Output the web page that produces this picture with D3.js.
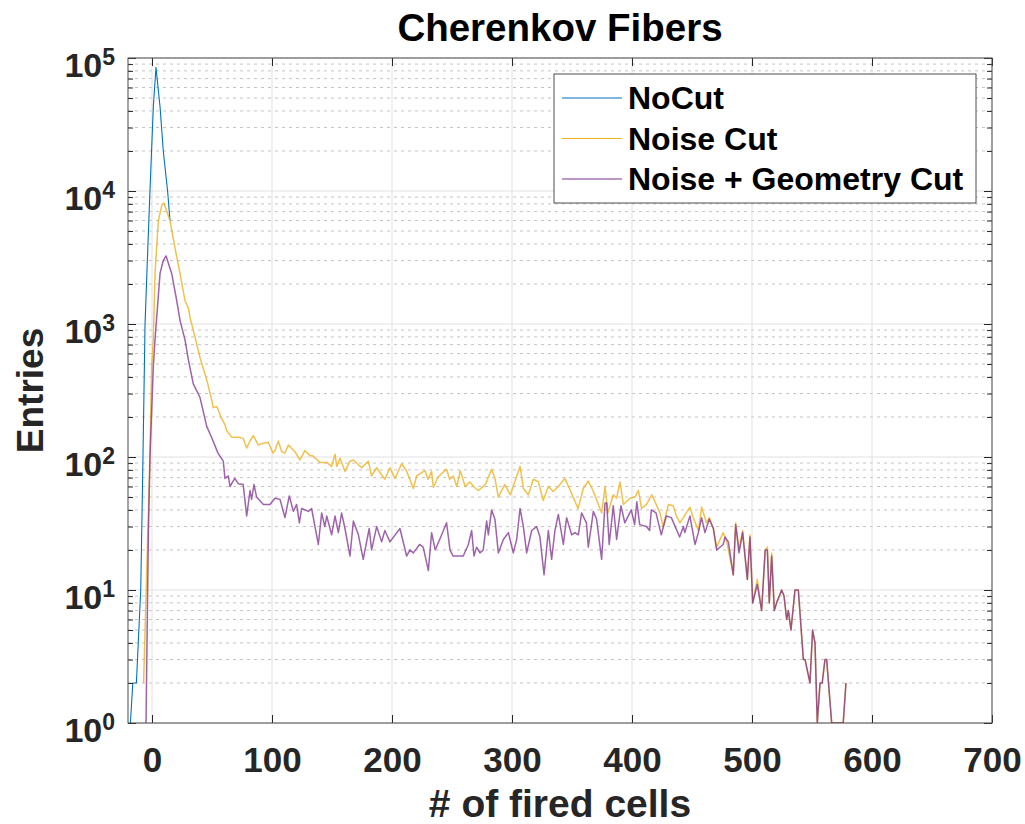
<!DOCTYPE html>
<html>
<head>
<meta charset="utf-8">
<script src="https://cdn.jsdelivr.net/npm/d3@7"></script>
<style>
  html, body { margin: 0; padding: 0; background: #fff; }
  svg { display: block; }
  text { font-family: "Liberation Sans", Arial, Helvetica, sans-serif; font-weight: bold; }
</style>
</head>
<body>
<svg id="chart" width="1025" height="824"></svg>
<script>
// ---------------- DATA ----------------
const title = "Cherenkov Fibers";
const xLabel = "# of fired cells";
const yLabel = "Entries";
const seriesNames = ["NoCut", "Noise Cut", "Noise + Geometry Cut"];
const xTickValues = [0, 100, 200, 300, 400, 500, 600, 700];
const yTickExponents = [0, 1, 2, 3, 4, 5];

// NoCut (only the visible peak region; beyond it the curve lies under "Noise Cut")
const noCutX = [-18, -16, -13, -9.4, -7.8, -5.8, -4, -1.7, 1.1, 3.3, 6.7, 9.4, 13, 15];
const noCutY = [1, 2, 2, 10, 70, 1000, 2800, 10000, 43000, 85000, 43000, 20000, 10000, 6000];

// Noise Cut
const noiseCutX = [-7, -1.7, -0.3, 1.1, 2.5, 5.3, 8.3, 10, 15, 19, 23.3, 27.5, 30.3, 31.7, 35.8, 40, 45.6, 49.7, 51, 53.9,
  55.3, 58, 60.8, 62.2, 66.4, 72, 76, 78.9, 81.7, 84.4, 88.6, 91.4, 96.9, 100.8, 102.5, 105.3, 108, 110.8, 113.6, 119,
  123.3, 127.5, 131.7, 134, 140, 145.6, 149.7, 152.5, 154, 156.7, 160.8, 165, 167.8, 174.7, 180.3, 183, 187.2, 194, 198.3, 202.5,
  208, 212, 217.8, 220.5, 227.5, 230, 233, 234.4, 238.6, 245.5, 248, 251, 254, 256.9, 261, 265, 267.8, 272, 277.8, 283,
  285.8, 288.6, 294, 298.6, 301, 306.7, 309.5, 313.6, 317.8, 322, 326, 330.3, 334.4, 338.6, 344, 349.4, 355, 359.4, 363.6, 367.8,
  374.7, 377.5, 380, 384.4, 387.2, 390, 392.8, 398.3, 402.5, 405.3, 408, 412.2, 416.4, 419.2, 423.3, 426, 430.3, 434.4, 437, 440,
  442.8, 448.3, 451, 455.3, 458, 462, 464.4, 467.8, 470.5, 476, 479, 484.4, 486.4, 489.2, 492.2, 496.1, 498.3, 500.6, 504.4, 508,
  511, 512.8, 514.4, 516.4, 518.6, 520.5, 524.7, 526.7, 528.9, 530.3, 532.5, 535.8, 538.6, 542.8, 544.2, 548.3, 550.5, 552.5, 554.4, 556.7,
  558.5, 560.8, 562.2, 566.4, 576, 578.3];
const noiseCutY = [2, 100, 480, 760, 2400, 6000, 7900, 8100, 6000, 3800, 2400, 1500, 1320, 1120, 800, 560, 380, 270, 235, 240,
  225, 195, 175, 158, 141, 141, 138, 117, 132, 145, 123, 126, 129, 107, 112, 132, 110, 107, 123, 110,
  95, 112, 102, 102, 91, 91, 85, 105, 85, 98, 78, 93, 95, 83, 93, 72, 83, 68, 83, 69,
  89, 79, 58, 72, 79, 68, 78, 59, 71, 81, 68, 72, 60, 79, 60, 65, 60, 56, 62, 81,
  69, 50, 62, 52, 60, 85, 58, 52, 68, 65, 47, 60, 55, 60, 69, 54, 41, 58, 66, 55,
  38, 60, 38, 52, 49, 65, 44, 49, 50, 56, 41, 44, 52, 46, 38, 30, 44, 43, 36, 32,
  35, 42, 35, 28, 42, 32, 35, 29, 21, 27, 23, 13, 32, 20, 28, 12, 26, 8, 12, 7,
  20, 21, 8, 19, 7, 8, 10, 9, 6, 7, 5, 10, 10, 3, 3, 2, 5, 4, 1, 2,
  2, 3, 3, 1, 1, 2];

// Noise + Geometry Cut
const geoCutX = [-5, -3, -1.7, 1.1, 2.5, 6.7, 9.4, 11.7, 16.4, 20.6, 23.3, 27.5, 30.3, 34.4, 40, 45.6, 49.7, 55, 59.4, 60.8,
  63.6, 65, 69, 71.9, 76, 78.9, 81.7, 83, 85, 87.2, 92.8, 98.3, 102.5, 106.7, 110.8, 114.4, 117.8, 120.5, 122.8, 124.7,
  130.3, 133, 138.6, 141.4, 144, 145.6, 149.7, 152.5, 155.3, 158, 160.8, 165, 167.8, 172, 176, 181, 183, 187.2, 191.4, 194,
  198.3, 206.6, 212.2, 215, 217.8, 223, 226, 230.3, 233, 236, 241.4, 245.5, 248.3, 251, 259.4, 263.6, 266.4, 268.3, 270.5, 273.3,
  276, 278.9, 280.3, 283, 285.8, 288.6, 292.8, 297, 301.1, 303.9, 306.7, 309.5, 312.2, 316.4, 320.5, 323.3, 326.7, 330.3, 333, 335.8,
  338.6, 342.8, 345.5, 349.7, 352.5, 355.3, 358, 362, 363.6, 367.8, 370.5, 374.7, 377.5, 378.9, 381, 384.4, 387.2, 390.8, 394, 399.4,
  402.2, 404, 406.4, 412, 414.7, 416.1, 420, 424.4, 428.6, 432.8, 439.7, 442.8, 444, 448.3, 452.5, 455.3, 458, 460.8, 464.4, 467.8,
  470.5, 476, 477.5, 480.3, 484.4, 486.4, 489.2, 492.2, 496.1, 498.3, 500.6, 504.4, 508, 511, 512.8, 514.4, 516.4, 518.6, 520.5, 524.7,
  526.7, 528.9, 530.3, 532.5, 535.8, 538.6, 542.8, 544.2, 548.3, 550.5, 552.5, 554.4, 556.7, 558.5, 560.8, 562.2, 566.4, 576, 578.3];
const geoCutY = [1, 27, 100, 480, 760, 2400, 3000, 3250, 2400, 1500, 1070, 760, 540, 355, 280, 170, 140, 107, 93, 69,
  72, 60, 69, 63, 62, 36, 56, 48, 62, 50, 44, 44, 49, 48, 35, 51, 39, 44, 32, 41,
  39, 41, 22, 38, 30, 36, 26, 36, 27, 38, 29, 18, 33, 26, 17, 29, 20, 30, 23, 28,
  23, 29, 18, 20, 19, 22, 21, 14, 27, 20, 26, 32, 20, 18, 18, 22, 28, 18, 21, 19,
  20, 33, 26, 40, 34, 19, 24, 27, 19, 24, 41, 30, 19, 28, 30, 25, 13, 28, 17, 28,
  37, 22, 35, 26, 27, 26, 38, 32, 21, 39, 34, 17, 45, 45, 22, 43, 24, 43, 32, 40,
  31, 46, 31, 30, 28, 40, 38, 26, 36, 35, 25, 30, 27, 36, 22, 27, 35, 27, 34, 29,
  20, 22, 25, 23, 13, 31, 19, 27, 12, 25, 8, 11, 7, 20, 20, 8, 18, 7, 8, 10,
  9, 6, 7, 5, 10, 10, 3, 3, 2, 5, 4, 1, 2, 2, 3, 3, 1, 1, 2];

const colors = ["#0072BD", "#EDB120", "#7E2F8E"];

// ---------------- LAYOUT ----------------
const plot = { left: 128, right: 992, top: 58, bottom: 723 };
const FONT_TICK = 35, FONT_TITLE = 38.5, FONT_XLABEL = 39, FONT_YLABEL = 37, FONT_LEGEND = 32;

const svg = d3.select("#chart");
const x = d3.scaleLinear().domain([-20, 700]).range([plot.left, plot.right]);
const y = d3.scaleLog().domain([1, 1e5]).range([plot.bottom, plot.top]);

const majorY = yTickExponents.map(e => Math.pow(10, e));
const minorY = [];
for (let e = 0; e < 5; e++) for (let k = 2; k <= 9; k++) minorY.push(k * Math.pow(10, e));

// grid
const grid = svg.append("g");
grid.selectAll(".ymin").data(minorY).enter().append("line")
  .attr("x1", plot.left).attr("x2", plot.right)
  .attr("y1", d => y(d)).attr("y2", d => y(d))
  .attr("stroke", "#c4c4c4").attr("stroke-width", 1).attr("stroke-dasharray", "3,4");
grid.selectAll(".ymaj").data(majorY).enter().append("line")
  .attr("x1", plot.left).attr("x2", plot.right)
  .attr("y1", d => y(d)).attr("y2", d => y(d))
  .attr("stroke", "#e1e1e1").attr("stroke-width", 1);
grid.selectAll(".xmaj").data(xTickValues).enter().append("line")
  .attr("x1", d => x(d)).attr("x2", d => x(d))
  .attr("y1", plot.top).attr("y2", plot.bottom)
  .attr("stroke", "#e1e1e1").attr("stroke-width", 1);

// curves
svg.append("defs").append("clipPath").attr("id", "clip")
  .append("rect").attr("x", plot.left).attr("y", plot.top)
  .attr("width", plot.right - plot.left).attr("height", plot.bottom - plot.top);

const line = d3.line().x(d => x(d[0])).y(d => y(d[1]));
const series = [
  { xs: noCutX, ys: noCutY, w: 1.1, op: 1 },
  { xs: noiseCutX, ys: noiseCutY, w: 1.5, op: 0.8 },
  { xs: geoCutX, ys: geoCutY, w: 1.5, op: 0.75 }
];
const curves = svg.append("g").attr("clip-path", "url(#clip)");
series.forEach((s, i) => {
  const pts = s.xs.map((v, j) => [v, s.ys[j]]);
  curves.append("path").datum(pts)
    .attr("d", line)
    .attr("fill", "none")
    .attr("stroke", colors[i])
    .attr("stroke-width", s.w)
    .attr("stroke-linejoin", "round")
    .attr("stroke-opacity", s.op);
});

// axes
const axisColor = "#262626";
function styleAxis(g) {
  g.select(".domain").remove();
  g.selectAll(".tick line").attr("stroke", axisColor).attr("stroke-width", 1);
}
const xb = svg.append("g").attr("transform", `translate(0,${plot.bottom})`)
  .call(d3.axisBottom(x).tickValues(xTickValues).tickSize(-8).tickPadding(24).tickFormat(d3.format("d")));
styleAxis(xb);
xb.selectAll(".tick text").attr("font-size", FONT_TICK).attr("fill", axisColor)
  .attr("font-family", '"Liberation Sans", Arial, Helvetica, sans-serif').attr("font-weight", "bold");

const xt = svg.append("g").attr("transform", `translate(0,${plot.top})`)
  .call(d3.axisTop(x).tickValues(xTickValues).tickSize(-8).tickFormat(""));
styleAxis(xt);

const yl = svg.append("g").attr("transform", `translate(${plot.left},0)`)
  .call(d3.axisLeft(y).tickValues(majorY).tickSize(-8).tickFormat(""));
styleAxis(yl);
const ylm = svg.append("g").attr("transform", `translate(${plot.left},0)`)
  .call(d3.axisLeft(y).tickValues(minorY).tickSize(-5).tickFormat(""));
styleAxis(ylm);
const yr = svg.append("g").attr("transform", `translate(${plot.right},0)`)
  .call(d3.axisRight(y).tickValues(majorY).tickSize(-8).tickFormat(""));
styleAxis(yr);
const yrm = svg.append("g").attr("transform", `translate(${plot.right},0)`)
  .call(d3.axisRight(y).tickValues(minorY).tickSize(-5).tickFormat(""));
styleAxis(yrm);

// y tick labels 10^n
yTickExponents.forEach(e => {
  const t = svg.append("text")
    .attr("x", plot.left - 13).attr("y", y(Math.pow(10, e)) + 19)
    .attr("text-anchor", "end").attr("fill", axisColor);
  t.append("tspan").attr("font-size", 34).text("10");
  t.append("tspan").attr("font-size", 23).attr("dy", -12).text(String(e));
});

// box
svg.append("rect").attr("x", plot.left).attr("y", plot.top)
  .attr("width", plot.right - plot.left).attr("height", plot.bottom - plot.top)
  .attr("fill", "none").attr("stroke", "#4d4d4d").attr("stroke-width", 1);

// title & labels
svg.append("text").attr("x", (plot.left + plot.right) / 2).attr("y", 41)
  .attr("text-anchor", "middle").attr("font-size", FONT_TITLE).attr("fill", "#000").text(title);
svg.append("text").attr("x", (plot.left + plot.right) / 2).attr("y", 817)
  .attr("text-anchor", "middle").attr("font-size", FONT_XLABEL).attr("fill", axisColor).text(xLabel);
svg.append("text")
  .attr("transform", `translate(43,${(plot.top + plot.bottom) / 2}) rotate(-90)`)
  .attr("text-anchor", "middle").attr("font-size", FONT_YLABEL).attr("fill", axisColor).text(yLabel);

// legend
const lg = svg.append("g");
lg.append("rect").attr("x", 554).attr("y", 74).attr("width", 422).attr("height", 129)
  .attr("fill", "#fff").attr("stroke", "#4d4d4d").attr("stroke-width", 1);
seriesNames.forEach((name, i) => {
  const cy = 98 + i * 40.5;
  lg.append("line").attr("x1", 562).attr("x2", 622).attr("y1", cy).attr("y2", cy)
    .attr("stroke", colors[i]).attr("stroke-width", 1.1);
  lg.append("text").attr("x", 628).attr("y", cy + 11).attr("font-size", FONT_LEGEND)
    .attr("fill", "#000").text(name);
});
</script>
</body>
</html>
